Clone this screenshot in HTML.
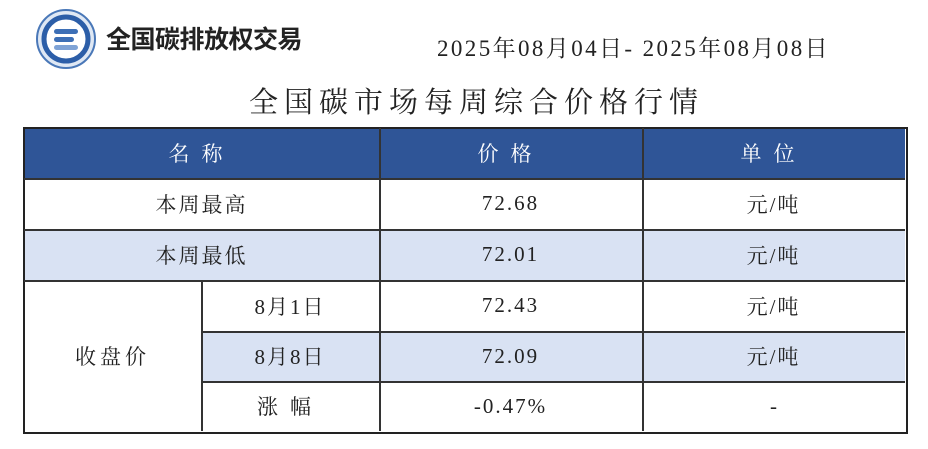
<!DOCTYPE html>
<html><head><meta charset="utf-8"><style>
body{margin:0;width:928px;height:449px;background:#fff;position:relative;overflow:hidden;font-family:"Liberation Serif","Noto Serif CJK SC","Noto Serif CJK",serif;color:#222}
.a{position:absolute}
.c{position:absolute;display:flex;align-items:center;justify-content:center;font-size:21px;box-sizing:border-box}
.h{background:#2f5597;color:#fff}
.l{background:#d9e2f3}
.vl{position:absolute;width:1.5px;background:#333}
.hl{position:absolute;height:1.5px;background:#333}
</style></head><body>
<svg class="a" style="left:35px;top:8px" width="62" height="62" viewBox="0 0 62 62">
<circle cx="31" cy="31" r="29" fill="#dfe8f4" stroke="#4a78b8" stroke-width="2"/>
<circle cx="31" cy="31" r="22" fill="#fff" stroke="#2c5ea8" stroke-width="5"/>
<rect x="19" y="21" width="24" height="5" rx="2.5" fill="#3d6fb6"/>
<rect x="19" y="29" width="20" height="5" rx="2.5" fill="#3d6fb6"/>
<rect x="19" y="37" width="24" height="5" rx="2.5" fill="#7fa3d6"/>
</svg>
<div class="a" style="left:106px;top:20px;font-size:25px;font-weight:bold;font-family:'Noto Sans CJK SC',sans-serif;color:#222;letter-spacing:-0.5px">全国碳排放权交易</div>
<div class="a" style="left:437px;top:30px;font-size:23px;letter-spacing:2.4px">2025年08月04日- 2025年08月08日</div>
<div class="a" style="left:249px;top:80px;font-size:29px;letter-spacing:6px">全国碳市场每周综合价格行情</div>

<div class="c h" style="left:24px;top:128px;width:355px;height:50px;letter-spacing:12px">名称</div>
<div class="c h" style="left:379px;top:128px;width:263px;height:50px;letter-spacing:12px">价格</div>
<div class="c h" style="left:642px;top:128px;width:263px;height:50px;letter-spacing:12px">单位</div>

<div class="c" style="left:24px;top:178px;width:355px;height:51px;letter-spacing:2px">本周最高</div>
<div class="c" style="left:379px;top:178px;width:263px;height:51px;letter-spacing:2px">72.68</div>
<div class="c" style="left:642px;top:178px;width:263px;height:51px;letter-spacing:2px">元/吨</div>

<div class="c l" style="left:24px;top:229px;width:355px;height:51px;letter-spacing:2px">本周最低</div>
<div class="c l" style="left:379px;top:229px;width:263px;height:51px;letter-spacing:2px">72.01</div>
<div class="c l" style="left:642px;top:229px;width:263px;height:51px;letter-spacing:2px">元/吨</div>

<div class="c" style="left:24px;top:280px;width:177px;height:151px;letter-spacing:4px">收盘价</div>
<div class="c" style="left:201px;top:280px;width:178px;height:51px;letter-spacing:2px">8月1日</div>
<div class="c" style="left:379px;top:280px;width:263px;height:51px;letter-spacing:2px">72.43</div>
<div class="c" style="left:642px;top:280px;width:263px;height:51px;letter-spacing:2px">元/吨</div>
<div class="c l" style="left:201px;top:331px;width:178px;height:50px;letter-spacing:2px">8月8日</div>
<div class="c l" style="left:379px;top:331px;width:263px;height:50px;letter-spacing:2px">72.09</div>
<div class="c l" style="left:642px;top:331px;width:263px;height:50px;letter-spacing:2px">元/吨</div>
<div class="c" style="left:201px;top:381px;width:178px;height:50px;letter-spacing:12px">涨幅</div>
<div class="c" style="left:379px;top:381px;width:263px;height:50px;letter-spacing:2px">-0.47%</div>
<div class="c" style="left:642px;top:381px;width:263px;height:50px">-</div>

<div class="a" style="left:23px;top:127px;width:881px;height:303px;border:2px solid #222"></div>
<div class="hl" style="left:24px;top:178px;width:881px"></div>
<div class="hl" style="left:24px;top:229px;width:881px"></div>
<div class="hl" style="left:24px;top:280px;width:881px;height:2px"></div>
<div class="hl" style="left:201px;top:331px;width:704px"></div>
<div class="hl" style="left:201px;top:381px;width:704px"></div>
<div class="vl" style="left:379px;top:128px;height:303px"></div>
<div class="vl" style="left:642px;top:128px;height:303px"></div>
<div class="vl" style="left:201px;top:280px;height:151px"></div>
</body></html>
